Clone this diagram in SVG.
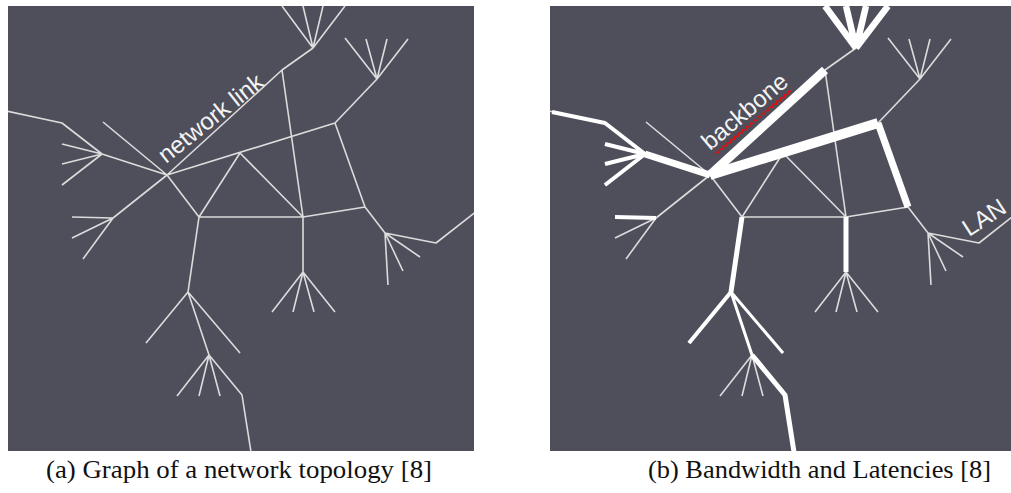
<svg xmlns="http://www.w3.org/2000/svg" xmlns:xlink="http://www.w3.org/1999/xlink" width="1011" height="493" viewBox="0 0 1011 493">
  <style>
    .panel { fill: #4e4f5b; }
    .thin { fill: none; stroke: #dcdcdc; stroke-width: 1.6; stroke-linejoin: round; stroke-linecap: butt; }
    .thick { fill: none; stroke: #ffffff; stroke-linejoin: round; stroke-linecap: butt; }
    .lbl { font-family: "Liberation Sans", Arial, sans-serif; font-size: 24px; fill: #f4f4f4; }
    .cap { font-family: "Liberation Serif", "DejaVu Serif", serif; font-size: 25px; fill: #111; }
    .squiggle { fill: none; stroke: #e01010; stroke-width: 1.3; stroke-linejoin: round; }
  </style>
  <defs>
    <clipPath id="clipA"><rect x="8" y="6" width="466" height="445"/></clipPath>
    <clipPath id="clipB"><rect x="550" y="6" width="461" height="445"/></clipPath>
    <!-- shared topology: every link drawn as a thin line -->
    <path id="topology" d="
      M167,175 L282,70 L313,48
      M313,48 L282,6 M313,48 L303,6 M313,48 L323,6 M313,48 L345,6
      M282,70 L303,217
      M167,175 L335,123 L377,79
      M377,79 L345,38 M377,79 L366,39 M377,79 L387,39 M377,79 L408,39
      M335,123 L365,207 L303,217 L199,217 L240,153 L303,217
      M167,175 L199,217 L188,292
      M365,207 L385,233 L436,243 L478,210
      M385,233 L388,285 M385,233 L403,271 M385,233 L420,257
      M303,217 L303,272
      M303,272 L272,312 M303,272 L293,312 M303,272 L314,312 M303,272 L335,312
      M188,292 L146,343 M188,292 L240,353 M188,292 L209,355
      M209,355 L177,396 M209,355 L199,396 M209,355 L220,396 M209,355 L242,395 L251,452
      M167,175 L113,218 L72,217 M113,218 L72,238 M113,218 L83,259
      M167,175 L102,154 L62,123 L6,111
      M102,154 L62,144 M102,154 L62,164 M102,154 L62,185
      M167,175 L103,122"/>
  </defs>

  <rect x="0" y="0" width="1011" height="493" fill="#ffffff"/>

  <!-- (a) plain topology -->
  <g id="panel-a" clip-path="url(#clipA)">
    <rect class="panel" x="8" y="6" width="466" height="445"/>
    <g id="links-a">
      <use xlink:href="#topology" class="thin"/>
    </g>
    <g id="label-network-link">
      <text class="lbl" x="166" y="164" transform="rotate(-38.5 166 164)" textLength="127" lengthAdjust="spacingAndGlyphs">network link</text>
    </g>
  </g>

  <!-- (b) same topology, stroke width by bandwidth -->
  <g id="panel-b" clip-path="url(#clipB)">
    <rect class="panel" x="550" y="6" width="461" height="445"/>
    <g id="links-b" transform="translate(543,0)">
      <use xlink:href="#topology" class="thin"/>
      <path class="thick" stroke-width="3" d="M188,292 L240,353 M188,292 L209,355"/>
      <path class="thick" stroke-width="4" d="M9,112 L62,123 L102,154 M102,154 L62,144 M102,154 L62,164 M102,154 L62,185 M113,218 L72,217 M188,292 L146,343"/>
      <path class="thick" stroke-width="5" d="M303,217 L303,272 M199,217 L188,292 M209,355 L242,395 L251,452"/>
      <path class="thick" stroke-width="6.5" d="M313,48 L282,6 M313,48 L303,6 M313,48 L323,6 M313,48 L345,6"/>
      <path class="thick" stroke-width="7" d="M102,154 L167,175 M335,123 L365,207"/>
      <path class="thick" stroke-width="9" d="M167,175 L282,70"/>
      <path class="thick" stroke-width="10" d="M167,175 L335,123"/>
    </g>
    <g id="label-backbone">
      <g transform="rotate(-40 710 151)">
        <text class="lbl" x="710" y="151" textLength="104" lengthAdjust="spacingAndGlyphs">backbone</text>
        <path class="squiggle" d="M711,158 l2.5,-2.5 l2.5,2.5 l2.5,-2.5 l2.5,2.5 l2.5,-2.5 l2.5,2.5 l2.5,-2.5 l2.5,2.5 l2.5,-2.5 l2.5,2.5 l2.5,-2.5 l2.5,2.5 l2.5,-2.5 l2.5,2.5 l2.5,-2.5 l2.5,2.5 l2.5,-2.5 l2.5,2.5 l2.5,-2.5 l2.5,2.5 l2.5,-2.5 l2.5,2.5 l2.5,-2.5 l2.5,2.5 l2.5,-2.5 l2.5,2.5 l2.5,-2.5 l2.5,2.5 l2.5,-2.5 l2.5,2.5 l2.5,-2.5 l2.5,2.5 l2.5,-2.5 l2.5,2.5 l2.5,-2.5 l2.5,2.5 l2.5,-2.5 l2.5,2.5 l2.5,-2.5 l2.5,2.5"/>
      </g>
    </g>
    <g id="label-lan">
      <text class="lbl" x="969" y="237" transform="rotate(-33 969 237)">LAN</text>
    </g>
  </g>

  <!-- captions -->
  <g id="caption-a">
    <text class="cap" x="46" y="478" textLength="386" lengthAdjust="spacingAndGlyphs">(a) Graph of a network topology [8]</text>
  </g>
  <g id="caption-b">
    <text class="cap" x="648" y="478" textLength="343" lengthAdjust="spacingAndGlyphs">(b) Bandwidth and Latencies [8]</text>
  </g>
</svg>
